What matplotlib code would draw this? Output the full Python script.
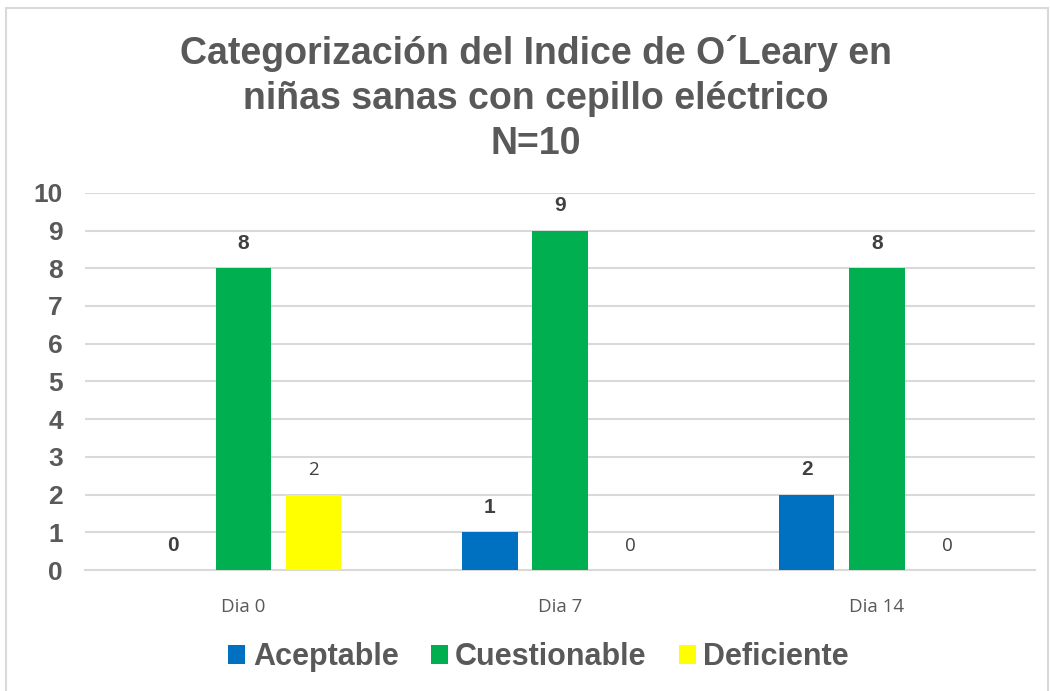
import numpy as np
import matplotlib.pyplot as plt
from matplotlib.patches import Rectangle

plt.rcParams['font.family'] = ['Liberation Sans', 'DejaVu Sans']

# Data
categories = ["Dia 0", "Dia 7", "Dia 14"]
series_names = ["Aceptable", "Cuestionable", "Deficiente"]
aceptable = [0, 1, 2]
cuestionable = [8, 9, 8]
deficiente = [2, 0, 0]

colors = ["#0070C0", "#00B050", "#FFFF00"]
label_bold = [True, True, False]
text_gray = "#595959"
grid_gray = "#d9d9d9"

fig = plt.figure(figsize=(10.5, 6.91), dpi=100)
ax = fig.add_axes([0.081, 0.175, 0.905, 0.546])

x = np.arange(len(categories))
width = 0.175
offset = 0.222
all_series = [aceptable, cuestionable, deficiente]

for i, (name, vals) in enumerate(zip(series_names, all_series)):
    pos = x + (i - 1) * offset
    ax.bar(pos, vals, width, color=colors[i], label=name, zorder=3)
    for px, v in zip(pos, vals):
        ax.annotate(str(v), (px, v), xytext=(0, 11), textcoords="offset points",
                    ha="center", va="bottom",
                    fontsize=15 if label_bold[i] else 13.5,
                    fontweight="bold" if label_bold[i] else "normal",
                    color="#404040",
                    family=["Liberation Sans"] if label_bold[i] else ["Open Sans", "DejaVu Sans"])

ax.set_xlim(-0.5, 2.5)
ax.set_ylim(0, 10)
ax.set_yticks(range(0, 11))
ax.yaxis.grid(True, color=grid_gray, linewidth=1.5, zorder=0)
ax.set_axisbelow(True)
for s in ["top", "right", "left"]:
    ax.spines[s].set_visible(False)
ax.spines["bottom"].set_color(grid_gray)
ax.spines["bottom"].set_linewidth(1.5)
ax.tick_params(axis="both", length=0)
ax.tick_params(axis="y", pad=16)
ax.tick_params(axis="x", pad=20)

ax.set_xticks(x)
ax.set_xticklabels(categories, fontsize=13.5, color=text_gray, family=["Open Sans", "DejaVu Sans"])
for lbl in ax.get_yticklabels():
    lbl.set_fontsize(19)
    lbl.set_fontweight("bold")
    lbl.set_color(text_gray)

fig.text(0.51, 0.766, "Categorización del Indice de O´Leary en\nniñas sanas con cepillo eléctrico\nN=10",
         ha="center", va="bottom", fontsize=27, fontweight="bold", color=text_gray,
         linespacing=1.32)

leg = fig.legend(loc="center", bbox_to_anchor=(0.513, 0.049), ncol=3, frameon=False,
                 prop={"size": 22, "weight": "bold"}, handlelength=0.55, handleheight=0.55,
                 handletextpad=0.25, columnspacing=1.05)
for t in leg.get_texts():
    t.set_color(text_gray)

fig.patches.append(Rectangle((0.006, -0.01), 0.992, 0.998, transform=fig.transFigure,
                             fill=False, edgecolor=grid_gray, linewidth=1.5))

fig.savefig("out.png", dpi=100)
